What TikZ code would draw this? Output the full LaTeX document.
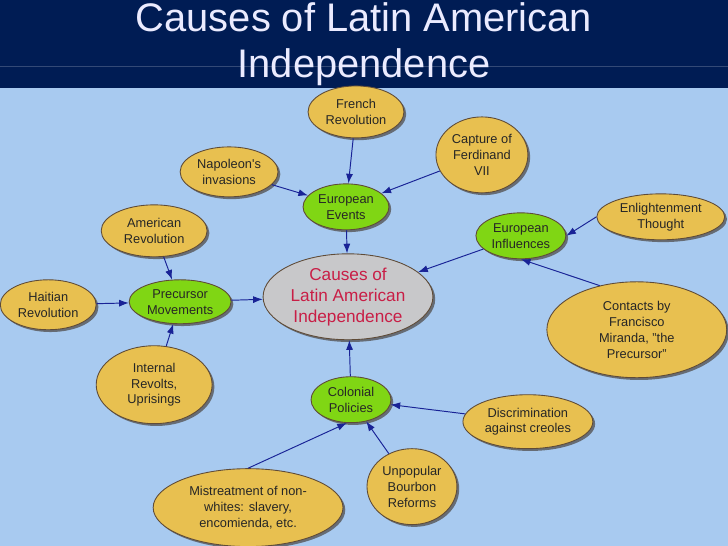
\documentclass[tikz,border=0pt]{standalone}
\usepackage{fontspec}
\setmainfont{Liberation Sans}
\usepackage{tikz}
\usetikzlibrary{shapes.geometric,shadows,arrows.meta}

\definecolor{slidebg}{RGB}{168,202,240}
\definecolor{titlebar}{RGB}{0,28,84}
\definecolor{cause}{RGB}{232,192,80}
\definecolor{group}{RGB}{128,214,20}
\definecolor{topic}{RGB}{200,200,202}
\definecolor{rim}{RGB}{95,75,55}
\definecolor{link}{RGB}{25,35,150}
\definecolor{topictext}{RGB}{200,30,70}

\begin{document}
\begin{tikzpicture}[x=0.02cm,y=-0.02cm,
		bubble/.style={ellipse,draw=rim,line width=0.5pt,inner sep=0pt,align=center,
			text=black!85,font=\fontsize{7.3}{9}\selectfont,
			drop shadow={shadow xshift=1.3pt,shadow yshift=-1.3pt,fill=black!75!brown,opacity=0.55}},
		yel/.style={bubble,fill=cause},
		grn/.style={bubble,fill=group},
		arr/.style={draw=link,line width=0.55pt,-{Latex[length=5.5pt,width=4pt]}}]
		\fill[slidebg] (0,0) rectangle (728,546);
		\fill[titlebar] (0,0) rectangle (728,88);
		\draw[titlebar!80!white,line width=0.3pt] (0,66) -- (728,66);
		\useasboundingbox (0,0) rectangle (728,546);
		\node[anchor=base,text=white!92!blue,font=\fontsize{22.7}{25}\selectfont] (title1) at (364,32) {Causes of Latin American};
		\node[anchor=base,text=white!92!blue,font=\fontsize{22.7}{25}\selectfont] (title2) at (364,78) {Independence};

		\node[bubble,fill=topic,text=topictext,font=\fontsize{9.8}{12}\selectfont,minimum width=3.4cm,minimum height=1.72cm] (causes) at (348,297) {Causes of\\Latin American\\Independence};

		\node[grn,minimum width=1.72cm,minimum height=0.92cm] (euev) at (346,207) {European\\Events};
		\node[grn,minimum width=1.8cm,minimum height=0.92cm] (euin) at (521,236) {European\\Influences};
		\node[grn,minimum width=2.04cm,minimum height=0.88cm] (prec) at (180,302) {Precursor\\Movements};
		\node[grn,minimum width=1.6cm,minimum height=0.92cm] (colo) at (351,400) {Colonial\\Policies};

		\node[yel,minimum width=1.92cm,minimum height=1.04cm] (frev) at (356,112) {French\\Revolution};
		\node[yel,minimum width=1.84cm,minimum height=1.52cm] (ferd) at (482,155) {Capture of\\Ferdinand\\VII};
		\node[yel,minimum width=1.96cm,minimum height=1.0cm] (napo) at (229,172) {Napoleon\textquotesingle s\\invasions};
		\node[yel,minimum width=2.56cm,minimum height=0.92cm] (enli) at (661,217) {Enlightenment\\Thought};
		\node[yel,minimum width=3.6cm,minimum height=1.92cm] (mira) at (637,330) {Contacts by\\Francisco\\Miranda, "the\\Precursor"};
		\node[yel,minimum width=2.12cm,minimum height=1.04cm] (amrev) at (154,231) {American\\Revolution};
		\node[yel,minimum width=1.92cm,minimum height=1.0cm] (hait) at (48,305) {Haitian\\Revolution};
		\node[yel,minimum width=2.32cm,minimum height=1.56cm] (revo) at (154,385) {Internal\\Revolts,\\Uprisings};
		\node[yel,minimum width=2.6cm,minimum height=1.08cm] (disc) at (528,422) {Discrimination\\against creoles};
		\node[yel,minimum width=1.8cm,minimum height=1.52cm] (bour) at (412,487) {Unpopular\\Bourbon\\Reforms};
		\node[yel,minimum width=3.8cm,minimum height=1.56cm] (mist) at (248,508) {Mistreatment of non-\\whites: slavery,\\encomienda, etc.};

		\foreach \a/\b in {frev/euev,ferd/euev,napo/euev,euev/causes,euin/causes,amrev/prec,hait/prec,revo/prec,prec/causes,colo/causes,disc/colo,bour/colo}
			\draw[arr] (\a) -- (\b);
		\draw[arr] (enli.west) -- (euin.east);
		\draw[arr] (mira.130) -- (euin.south);
		\draw[arr] (mist.north) -- (colo.260);
\end{tikzpicture}
\end{document}
